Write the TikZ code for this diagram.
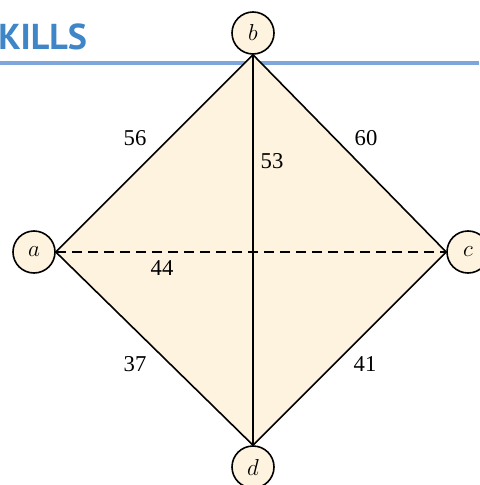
\documentclass[tikz,border=0pt]{standalone}
\usepackage{fontspec}
\setmainfont{Liberation Serif}
\newfontfamily\headfont{PT Sans}
\usepackage{xcolor}

\definecolor{cream}{RGB}{254,243,222}
\definecolor{headblue}{RGB}{62,134,199}
\definecolor{ruleblue}{RGB}{126,166,218}

\begin{document}
\begin{tikzpicture}[x=0.75pt,y=-0.75pt,line join=miter,
  vertex/.style={circle,draw,line width=1.2pt,fill=cream,minimum size=31.5pt,inner sep=0pt,
    font=\fontsize{18}{18}\selectfont\itshape},
  weight/.style={inner sep=0pt,font=\fontsize{17}{17}\selectfont},
  edge/.style={line width=1.2pt}]
\useasboundingbox (0,0) rectangle (479,485);
% heading and rule
\draw[ruleblue,line width=2.4pt] (0,63) -- (479,63);
\node[anchor=base west,inner sep=0pt,text=headblue,font=\fontsize{27}{27}\selectfont\headfont\bfseries] (head) at (-2,50) {KILLS};
% vertices
\node[vertex] (b) at (253,33) {$b$};
\node[vertex] (a) at (34,252) {$a$};
\node[vertex] (c) at (468,252) {$c$};
\node[vertex] (d) at (253,467) {$d$};
% shaded face
\fill[cream] (a.east) -- (b.south) -- (c.west) -- (d.north) -- cycle;
% edges
\draw[edge] (a.east) -- (b.south) -- (c.west) -- (d.north) -- cycle;
\draw[edge] (b.south) -- (d.north);
\draw[edge,dash pattern=on 7.5pt off 4.5pt] (a.east) -- (c.west);
% weights
\node[weight] (wab) at (135,138) {56};
\node[weight] (wbc) at (366,138) {60};
\node[weight] (wbd) at (272,161) {53};
\node[weight] (wac) at (162,268) {44};
\node[weight] (wad) at (135,364) {37};
\node[weight] (wcd) at (365,364) {41};
\end{tikzpicture}
\end{document}
